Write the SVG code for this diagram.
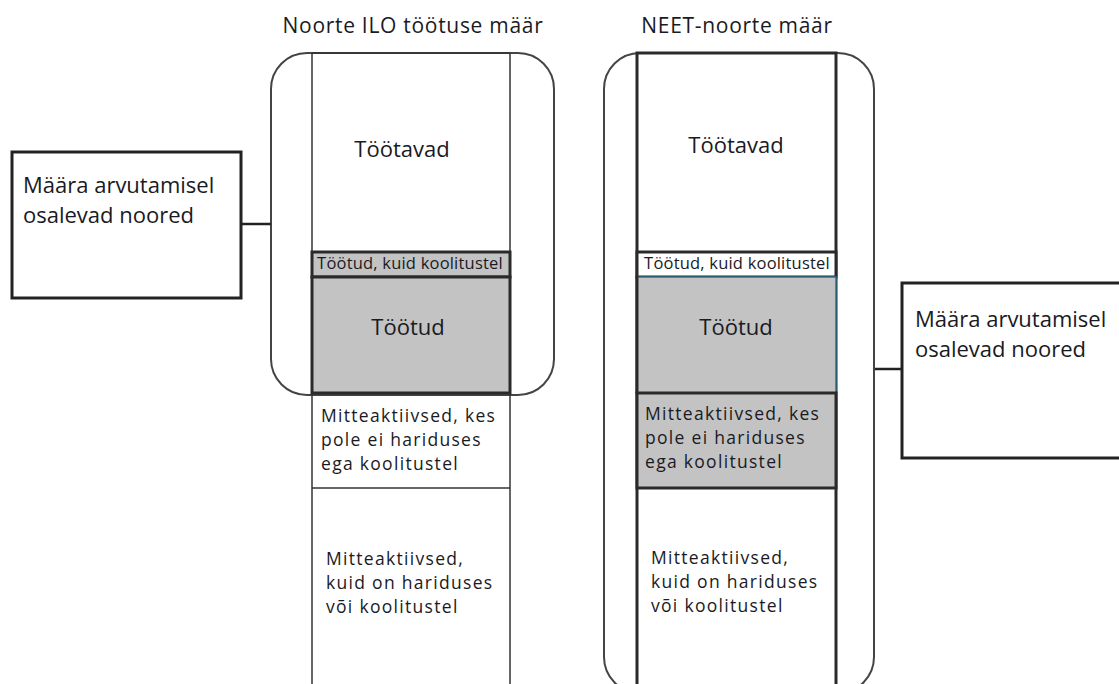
<svg xmlns="http://www.w3.org/2000/svg" width="1119" height="684" viewBox="0 0 1119 684">
<style>
text{font-family:"Open Sans","Noto Sans","Liberation Sans",sans-serif;fill:#1a1a24}
.h{font-size:21px;letter-spacing:0.7px}
.t{font-size:22px}
.s{font-size:16.5px;letter-spacing:0.2px}
.m{font-size:17.5px;letter-spacing:1.3px}
.outer{fill:none;stroke:#444;stroke-width:2}
.thin{fill:none;stroke:#333;stroke-width:1.5}
.thick{stroke:#2a2a2a;stroke-width:3}
.grey{fill:#c3c3c3}
.white{fill:#fff}
.box{fill:#fff;stroke:#222;stroke-width:3}
.conn{stroke:#222;stroke-width:2.5;fill:none}
</style>
<rect width="1119" height="684" fill="#fff"/>
<text class="h" x="413" y="33" text-anchor="middle">Noorte ILO töötuse määr</text>
<text class="h" x="737" y="33" text-anchor="middle">NEET-noorte määr</text>
<g id="ilo-column">
<rect class="outer" x="271" y="53" width="283" height="342" rx="36"/>
<line class="thin" x1="312" y1="53" x2="312" y2="684"/>
<line class="thin" x1="510" y1="53" x2="510" y2="684"/>
<line class="thin" x1="312" y1="53" x2="510" y2="53"/>
<text class="t" x="402" y="157" text-anchor="middle">Töötavad</text>
<rect class="grey thick" x="312" y="252" width="198" height="25"/>
<text class="s" x="410" y="269" text-anchor="middle">Töötud, kuid koolitustel</text>
<rect class="grey thick" x="312" y="277" width="198" height="116"/>
<text class="t" x="408" y="335" text-anchor="middle">Töötud</text>
<line class="thin" x1="312" y1="488" x2="510" y2="488"/>
<text class="m" x="321" y="422">Mitteaktiivsed, kes</text>
<text class="m" x="321" y="446">pole ei hariduses</text>
<text class="m" x="321" y="470">ega koolitustel</text>
<text class="m" x="326" y="565">Mitteaktiivsed,</text>
<text class="m" x="326" y="589">kuid on hariduses</text>
<text class="m" x="326" y="613">või koolitustel</text>
</g>
<g id="neet-column">
<rect class="outer" x="604" y="53" width="270" height="640" rx="36"/>
<rect class="white thick" x="637" y="53" width="199" height="640"/>
<text class="t" x="736" y="153" text-anchor="middle">Töötavad</text>
<rect class="white thick" x="637" y="252" width="199" height="25"/>
<text class="s" x="737" y="269" text-anchor="middle">Töötud, kuid koolitustel</text>
<rect class="grey" x="637" y="277" width="199" height="116" stroke="#2f6f8f" stroke-width="1.5"/>
<line class="thick" x1="637" y1="276" x2="637" y2="394"/>
<text class="t" x="736" y="335" text-anchor="middle">Töötud</text>
<rect class="grey thick" x="637" y="393" width="199" height="95"/>
<text class="m" x="645" y="420">Mitteaktiivsed, kes</text>
<text class="m" x="645" y="444">pole ei hariduses</text>
<text class="m" x="645" y="468">ega koolitustel</text>
<text class="m" x="651" y="564">Mitteaktiivsed,</text>
<text class="m" x="651" y="588">kuid on hariduses</text>
<text class="m" x="651" y="612">või koolitustel</text>
</g>
<g id="left-box">
<rect class="box" x="12" y="152" width="229" height="146"/>
<text class="t" x="23" y="193">Määra arvutamisel</text>
<text class="t" x="23" y="223">osalevad noored</text>
</g>
<g id="right-box">
<rect class="box" x="902" y="283" width="230" height="175"/>
<text class="t" x="915" y="327">Määra arvutamisel</text>
<text class="t" x="915" y="357">osalevad noored</text>
</g>
<g id="connectors">
<line class="conn" x1="241" y1="224" x2="271" y2="224"/>
<line class="conn" x1="875" y1="369" x2="902" y2="369"/>
</g>
</svg>
